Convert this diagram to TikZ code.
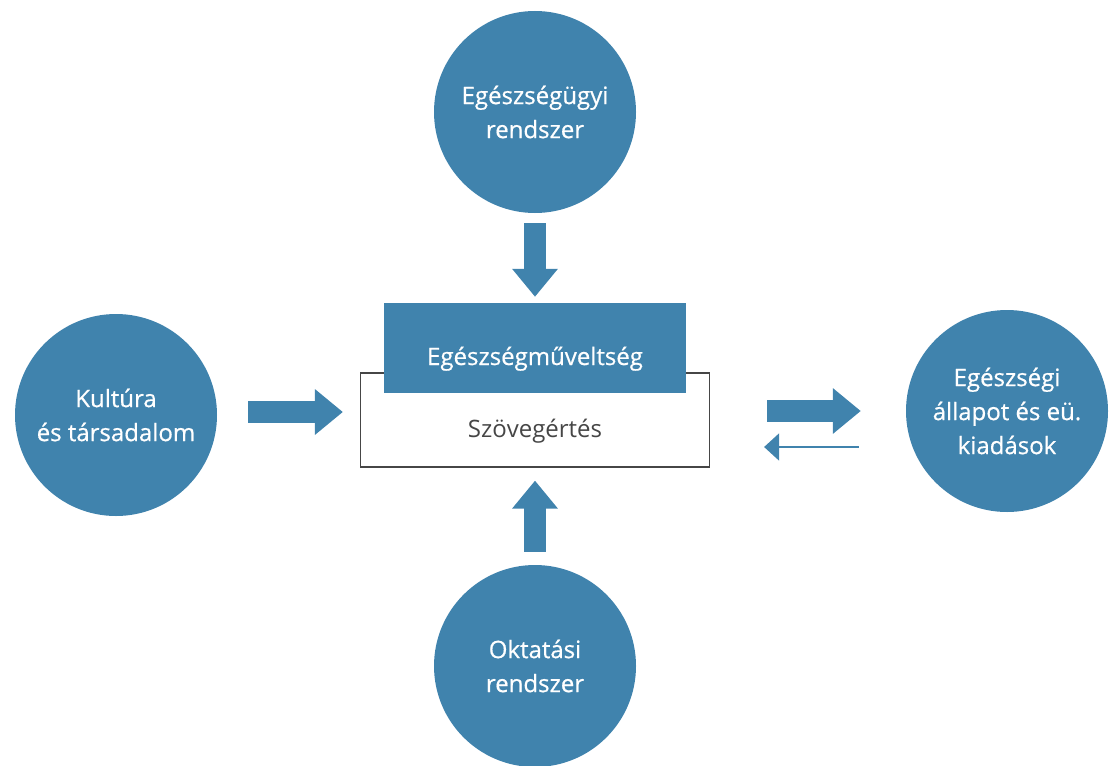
\documentclass[tikz,border=0pt]{standalone}
\usepackage{fontspec}
\setmainfont{Open Sans}
\newfontfamily\whitefont{Open Sans}[FakeBold=0.6]
\usepackage{tikz}
\usetikzlibrary{positioning,calc,arrows.meta}

\definecolor{steel}{RGB}{64,131,173}
\definecolor{darktext}{RGB}{70,70,70}

\begin{document}
\begin{tikzpicture}[x=1pt, y=-1pt, font=\fontsize{24}{34}\selectfont, blob/.style = {circle, fill=steel, draw=none, minimum size=202pt, inner sep=0pt, align=center, text=white, font=\fontsize{24}{34}\selectfont\whitefont}, fatarrow/.style = {draw=steel, line width=22pt, -{Triangle[length=28pt,width=44pt]}}, thinarrow/.style = {draw=steel, line width=2pt, -{Triangle[length=15pt,width=27pt]}}]

\useasboundingbox (0,0) rectangle (1115,765);

% the two stacked boxes in the middle
\node[draw=darktext, line width=1.2pt, fill=white, minimum width=349pt, minimum height=94pt, text=darktext] (szoveg) at (535,420) {\raisebox{-17pt}[0pt][0pt]{Szövegértés}};
\node[fill=steel, minimum width=302pt, minimum height=90pt, text=white, font=\fontsize{24}{34}\selectfont\whitefont] (muvelt) at (535,348) {\raisebox{-17pt}[0pt][0pt]{Egészségműveltség}};

% the four circles round them
\node[blob] (rendszer) at (535,112) {Egészségügyi\\rendszer};
\node[blob] (kultura) at (116,415) {Kultúra\\és társadalom};
\node[blob] (egall) at (1007,411) {Egészségi\\állapot és eü.\\kiadások};
\node[blob] (oktatas) at (535,666) {Oktatási\\rendszer};

\path
 (rendszer.south) edge[fatarrow, shorten <=10pt, shorten >=6pt] (muvelt.north)
 (oktatas.north) edge[fatarrow, shorten <=13pt, shorten >=13pt] (szoveg.south)
 ([yshift=3pt]kultura.east) edge[fatarrow, shorten <=31pt, shorten >=17pt] ([yshift=3pt]szoveg.west |- kultura.east)
 (szoveg.east |- egall.west) edge[fatarrow, shorten <=57pt, shorten >=45pt] (egall.west)
 ([yshift=-36pt]egall.west) edge[thinarrow, shorten <=47pt, shorten >=54pt] ([yshift=-27pt]szoveg.east);
\end{tikzpicture}
\end{document}
